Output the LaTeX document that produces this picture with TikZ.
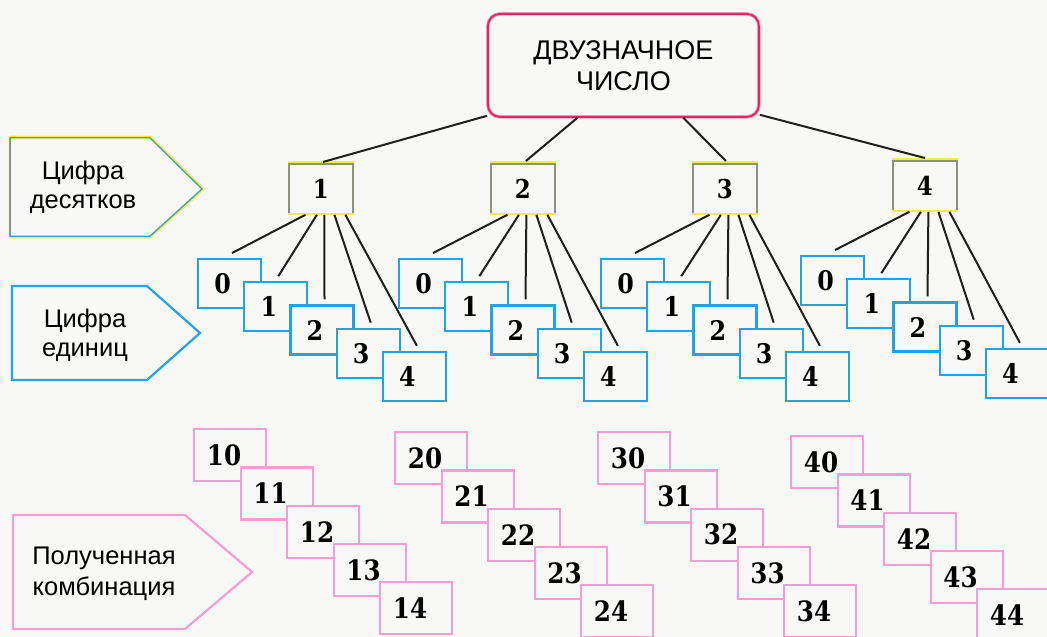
\documentclass[tikz,border=0pt]{standalone}
\usepackage{fontspec}
\setmainfont{Liberation Sans}
\newfontfamily\digitfont[FakeStretch=0.88]{DejaVu Serif}
\usetikzlibrary{calc}
\definecolor{bg}{RGB}{248,248,247}
\definecolor{blueC}{RGB}{35,163,230}
\definecolor{pinkC}{RGB}{244,158,212}
\definecolor{redC}{RGB}{222,40,100}
\definecolor{redGlow}{RGB}{245,150,190}
\definecolor{yellowC}{RGB}{246,236,80}
\definecolor{grayC}{RGB}{140,146,128}
\tikzset{
  conn/.style={draw=black!88, line width=2pt},
  ubox/.style={draw=blueC, fill=bg, line width=2.2pt, minimum width=63pt, minimum height=49pt,
    inner sep=0pt, anchor=north west, font=\digitfont\bfseries\fontsize{27}{27}\selectfont},
  cbox/.style={draw=pinkC, fill=bg, line width=2.2pt, minimum width=72pt, minimum height=52pt,
    inner sep=0pt, anchor=north west, font=\digitfont\bfseries\fontsize{28}{28}\selectfont},
  tbox/.style={draw=grayC, fill=bg, line width=1.8pt, minimum width=64pt, minimum height=50pt,
    inner sep=0pt, anchor=north west, font=\digitfont\bfseries\fontsize{26}{26}\selectfont},
  yel/.style={draw=yellowC, line width=2pt},
  lbl/.style={align=center, inner sep=0pt},
}
\begin{document}
\begin{tikzpicture}[x=1pt,y=-1pt]
\useasboundingbox (0,0) rectangle (1047,637);
\clip (0,0) rectangle (1047,637);
\fill[bg] (0,0) rectangle (1047,637);

% left arrow shapes
\draw[yellowC, line width=3pt] (10,137) -- (150,137) -- (203,189) -- (150,237) -- (10,237);
\draw[blueC!70!grayC, line width=1.3pt] (10,137.8) -- (150,137.8) -- (202,189) -- (150,236.2) -- (10,236.2);
\draw[grayC, line width=1.8pt] (10,137) -- (10,237);
\node[lbl, font=\fontsize{25.5}{29}\selectfont] (lab1) at (83,187) {Цифра\\десятков};

\draw[blueC, line width=2.2pt] (12,286) -- (147,286) -- (200,333) -- (147,380) -- (12,380) -- cycle;
\node[lbl, font=\fontsize{25.5}{29}\selectfont] (lab2) at (85,335) {Цифра\\единиц};

\draw[pinkC, line width=2.2pt] (13,515) -- (185,515) -- (252,572) -- (185,629) -- (13,629) -- cycle;
\node[lbl, font=\fontsize{25.5}{31}\selectfont] (lab3) at (104,574) {Полученная\\комбинация};

% top box
\node[draw=redC, line width=1.8pt, rounded corners=12pt, minimum width=271pt, minimum height=103pt,
  anchor=north west, align=center, preaction={draw=redGlow, line width=3.5pt},
  font=\fontsize{27}{31}\selectfont] (top) at (487,13) {ДВУЗНАЧНОЕ\\ЧИСЛО};

% groups
\foreach \g/\tx/\ty/\ux/\uy/\cx/\cy in
  {1/288/163/197/258/193/428, 2/490/163/398/258/394/431,
   3/692/163/600/258/597/431, 4/892/160/800/255/790/435}{
  \node[tbox] (t\g) at (\tx,\ty) {\g};
  \draw[yel] ([yshift=1.2pt]t\g.north west) -- ([yshift=1.2pt]t\g.north east);
  \draw[yel] ([yshift=0.6pt]t\g.south west) -- ([yshift=0.6pt]t\g.south east);
  \foreach \k in {0,...,4}{
    \node[ubox] (u\g\k) at ({\ux+\k*46.2},{\uy+\k*23.2}) {\k\kern14pt};
  }
  \foreach \k in {0,...,4}{
    \node[cbox] (c\g\k) at ({\cx+\k*46.5},{\cy+\k*38.3}) {\g\k\kern12pt};
  }
  \foreach \k/\off in {0/-15.5, 1/-4, 2/3.5, 3/13.5, 4/24.5}{
    \draw[conn] ($(t\g.south)+(\off,0)$) -- ($(u\g\k.north)+(2.5,-5)$);
  }
}

% top connectors
\draw[conn] ($(top.south west)+(0,-2)$) -- ($(t1.north)+(2,-1)$);
\draw[conn] ($(top.south)+(-46,0)$) -- ($(t2.north)+(3,-2)$);
\draw[conn] ($(top.south)+(60,0)$) -- ($(t3.north)+(1,-2)$);
\draw[conn] ($(top.south east)+(0,-3)$) -- ($(t4.north)+(0,-2)$);
\end{tikzpicture}
\end{document}
